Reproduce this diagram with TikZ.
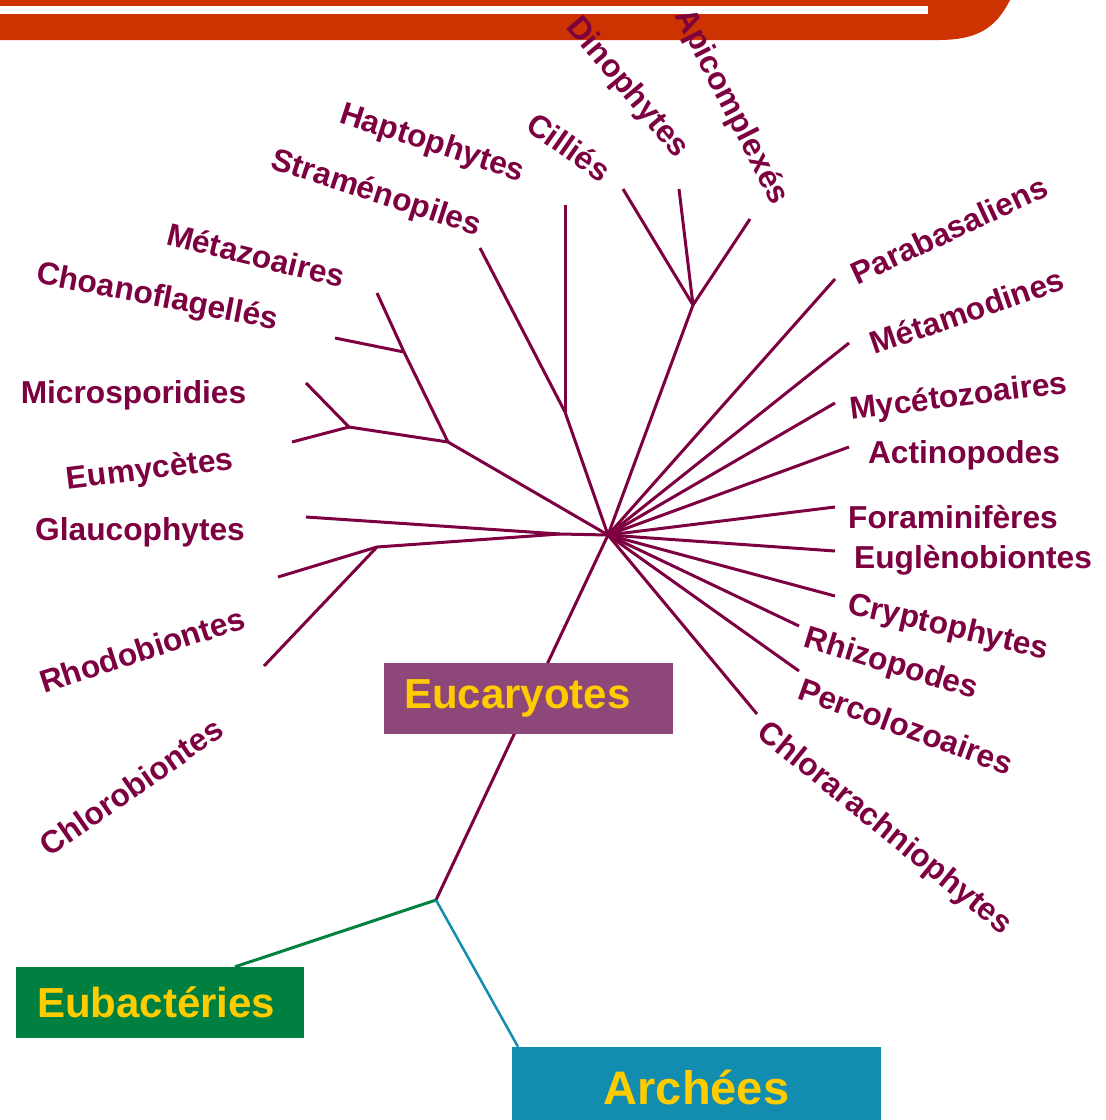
\documentclass[tikz,border=0pt]{standalone}
\usepackage{fontspec}
\setmainfont{Liberation Sans}
\definecolor{treecol}{HTML}{7D0040}
\definecolor{barred}{HTML}{CC3300}
\definecolor{eucol}{HTML}{8E4779}
\definecolor{eubcol}{HTML}{008040}
\definecolor{arccol}{HTML}{138DAF}
\definecolor{yel}{HTML}{FFCC00}
\begin{document}
\begin{tikzpicture}[x=1pt,y=-1pt,
  branch/.style={draw=treecol, line width=3pt, line join=round},
  taxon/.style={text=treecol, font=\bfseries\fontsize{31.7}{36}\selectfont, inner sep=0pt},
  domainbox/.style={fill=#1, text=yel, font=\bfseries\fontsize{42}{48}\selectfont, inner ysep=0pt}]
\useasboundingbox (0,0) rectangle (1106,1120);
\clip (0,0) rectangle (1106,1120);
% top bar
\fill[barred] (0,0) -- (1010,0) .. controls (995,30) and (975,40) .. (938,40) -- (0,40) -- cycle;
\fill[white] (0,6) rectangle (928,14);
% internal points
\coordinate (C) at (608,535);
\coordinate (nA) at (448,442);
\coordinate (nMet) at (404,352);
\coordinate (nFun) at (349,427);
\coordinate (nStr) at (565,412);
\coordinate (nGla) at (560,534);
\coordinate (nPla) at (377,547);
\coordinate (nAlv) at (693,305);
\coordinate (root) at (436,900);
% leaf ends
\coordinate (lMet) at (377,293);
\coordinate (lCho) at (335,338);
\coordinate (lMic) at (306,383);
\coordinate (lEum) at (292,442);
\coordinate (lStr) at (480,248);
\coordinate (lHap) at (565,205);
\coordinate (lGla) at (306,517);
\coordinate (lRho) at (278,577);
\coordinate (lChl) at (264,666);
\coordinate (lCil) at (623,189);
\coordinate (lDin) at (679,189);
\coordinate (lApi) at (750,219);
\coordinate (lPar) at (835,279);
\coordinate (lMtm) at (849,343);
\coordinate (lMyc) at (835,403);
\coordinate (lAct) at (849,447);
\coordinate (lFor) at (835,507);
\coordinate (lEug) at (835,551);
\coordinate (lCry) at (835,596);
\coordinate (lRhi) at (799,626);
\coordinate (lPer) at (799,671);
\coordinate (lCha) at (757,714);
% branches
\draw[branch] (lMet) -- (nMet) -- (nA) -- (C);
\draw[branch] (lCho) -- (nMet);
\draw[branch] (lMic) -- (nFun) -- (nA);
\draw[branch] (lEum) -- (nFun);
\draw[branch] (lStr) -- (nStr) -- (C);
\draw[branch] (lHap) -- (nStr);
\draw[branch] (lGla) -- (nGla) -- (C);
\draw[branch] (lRho) -- (nPla) -- (nGla);
\draw[branch] (lChl) -- (nPla);
\draw[branch] (lCil) -- (nAlv) -- (C);
\draw[branch] (lDin) -- (nAlv);
\draw[branch] (lApi) -- (nAlv);
\foreach \l in {lPar,lMtm,lMyc,lAct,lFor,lEug,lCry,lRhi,lPer,lCha}
  \draw[branch] (C) -- (\l);
\draw[branch] (C) -- (root);
% domain boxes
\node[domainbox=eucol, minimum height=71pt, inner xsep=20pt, text width=249pt, align=left] (euk) at (528.5,698.5) {\raisebox{-3pt}{Eucaryotes}};
\node[domainbox=eubcol, minimum height=71pt, inner xsep=21pt, text width=246pt, align=left] (eub) at (160,1002.5) {Eubactéries};
\node[domainbox=arccol, font=\bfseries\fontsize{47}{52}\selectfont, minimum height=80pt, minimum width=369pt, align=center] (arc) at (696.5,1087) {Archées};
\draw[draw=eubcol, line width=3pt] (root) -- ([xshift=75pt]eub.north);
\draw[draw=arccol, line width=2.5pt] (root) -- ([xshift=-178.5pt]arc.north);
% labels
\node[taxon, rotate=-18] (tHap) at (432,144) {Haptophytes};
\node[taxon, rotate=-18] (tStr) at (376,194) {Straménopiles};
\node[taxon, rotate=-14] (tMet) at (256,255) {Métazoaires};
\node[taxon, rotate=-11] (tCho) at (157,298) {Choanoflagellés};
\node[taxon] (tMic) at (133.5,395.5) {Microsporidies};
\node[taxon, rotate=7] (tEum) at (150,471) {Eumycètes};
\node[taxon] (tGla) at (140,532) {Glaucophytes};
\node[taxon, rotate=18] (tRho) at (142,650) {Rhodobiontes};
\node[taxon, rotate=35] (tChl) at (131,787) {Chlorobiontes};
\node[taxon, rotate=-35] (tCil) at (569,147) {Cilliés};
\node[taxon, rotate=-50] (tDin) at (627,88) {Dinophytes};
\node[taxon, rotate=-63] (tApi) at (731,107) {Apicomplexés};
\node[taxon, rotate=25] (tPar) at (949,230) {Parabasaliens};
\node[taxon, rotate=19] (tMtm) at (967,311) {Métamodines};
\node[taxon, rotate=7] (tMyc) at (959,398) {Mycétozoaires};
\node[taxon] (tAct) at (964,455) {Actinopodes};
\node[taxon] (tFor) at (953,517) {Foraminifères};
\node[taxon] (tEug) at (973,560) {Euglènobiontes};
\node[taxon, rotate=-13] (tCry) at (948,628) {Cryptophytes};
\node[taxon, rotate=-17] (tRhi) at (891,665) {Rhizopodes};
\node[taxon, rotate=-20] (tPer) at (906,726) {Percolozoaires};
\node[taxon, rotate=-39] (tCha) at (884,829) {Chlorarachniophytes};
\end{tikzpicture}
\end{document}
